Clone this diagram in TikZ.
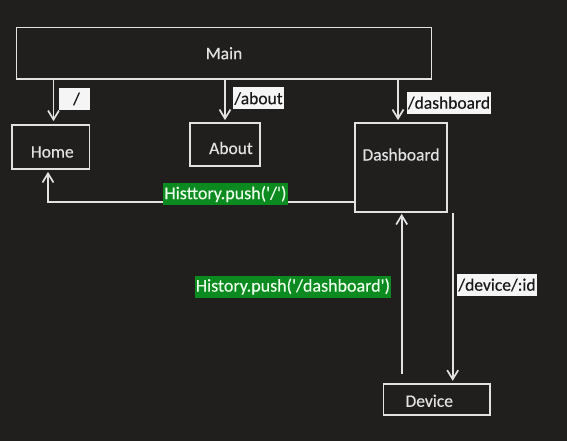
\documentclass[tikz,border=0pt]{standalone}
\usepackage{fontspec}
\setmainfont{Carlito}[FakeBold=0.35]
\usepackage{xcolor}
\usetikzlibrary{arrows.meta}

\definecolor{bgdark}{HTML}{201F1E}
\definecolor{linegrey}{HTML}{E2E2E2}
\definecolor{pushgreen}{HTML}{0B8A1F}

\begin{document}
\begin{tikzpicture}[
  x=1pt, y=-1pt,
  every node/.style = {font=\fontsize{17.5}{20}\selectfont, inner sep=1pt},
  box/.style = {draw=linegrey, line width=1.7pt, rectangle},
  boxtext/.style = {text=linegrey},
  route/.style = {fill=white!96!black, text=black!90, minimum height=22pt},
  push/.style = {fill=pushgreen, text=white!92!green, minimum height=22pt, font=\fontsize{18}{20}\selectfont},
  arr/.style = {draw=linegrey, line width=1.7pt, -{Straight Barb[length=9pt, width=11pt, line width=1.7pt]}}
]

\fill[bgdark] (0,0) rectangle (567,441);
\useasboundingbox (0,0) rectangle (567,441);

% boxes
\node[box, minimum width=415pt, minimum height=51.5pt] (main) at (224,53.25) {};
\node[box, minimum width=77.5pt, minimum height=44pt] (home) at (50.75,147) {};
\node[box, minimum width=70pt, minimum height=43pt] (about) at (225,144.5) {};
\node[box, minimum width=92pt, minimum height=89pt] (dash) at (401,167.5) {};
\node[box, minimum width=106.7pt, minimum height=31.3pt] (device) at (436.7,399.3) {};

\node[boxtext] (mainT) at (main.center) {Main};
\node[boxtext] (homeT) at ([xshift=1.5pt,yshift=-5pt]home.center) {Home};
\node[boxtext] (aboutT) at ([xshift=6pt,yshift=-3.5pt]about.center) {About};
\node[boxtext] (dashT) at ([yshift=13pt]dash.center) {Dashboard};
\node[boxtext] (deviceT) at ([xshift=-7.5pt,yshift=-1.5pt]device.center) {Device};

% routes from main
\draw[arr] ([xshift=2.75pt]home.north |- main.south) -- ([xshift=2.75pt,yshift=3pt]home.north);
\draw[arr] (about.north |- main.south) -- ([yshift=2pt]about.north);
\draw[arr] ([xshift=-3pt]dash.north |- main.south) -- ([xshift=-3pt,yshift=2pt]dash.north);

% back to home
\draw[arr] ([yshift=-34.5pt]dash.west) -| ([xshift=-2.75pt,yshift=-2pt]home.south);

% dashboard <-> device
\draw[arr] ([xshift=-35pt,yshift=8.7pt]device.north) -- ([xshift=-35pt,yshift=-1pt]device.north |- dash.south);
\draw[arr] ([xshift=16pt]device.north |- dash.south) -- ([xshift=16pt,yshift=2pt]device.north);

% labels
\node[route, minimum width=31pt] (homeL) at (74.5,99) {\hspace{4pt}/};
\node[route] (aboutL) at (258.5,98.5) {/about};
\node[route] (dashL) at (449,103) {/dashboard};
\node[route] (deviceL) at (497,285) {/device/:id};
\node[push] (homePush) at (225.5,194) {Histtory.push(\textquotesingle/\textquotesingle)};
\node[push] (dashPush) at (293,286.5) {History.push(\textquotesingle/dashboard\textquotesingle)};

\end{tikzpicture}
\end{document}
